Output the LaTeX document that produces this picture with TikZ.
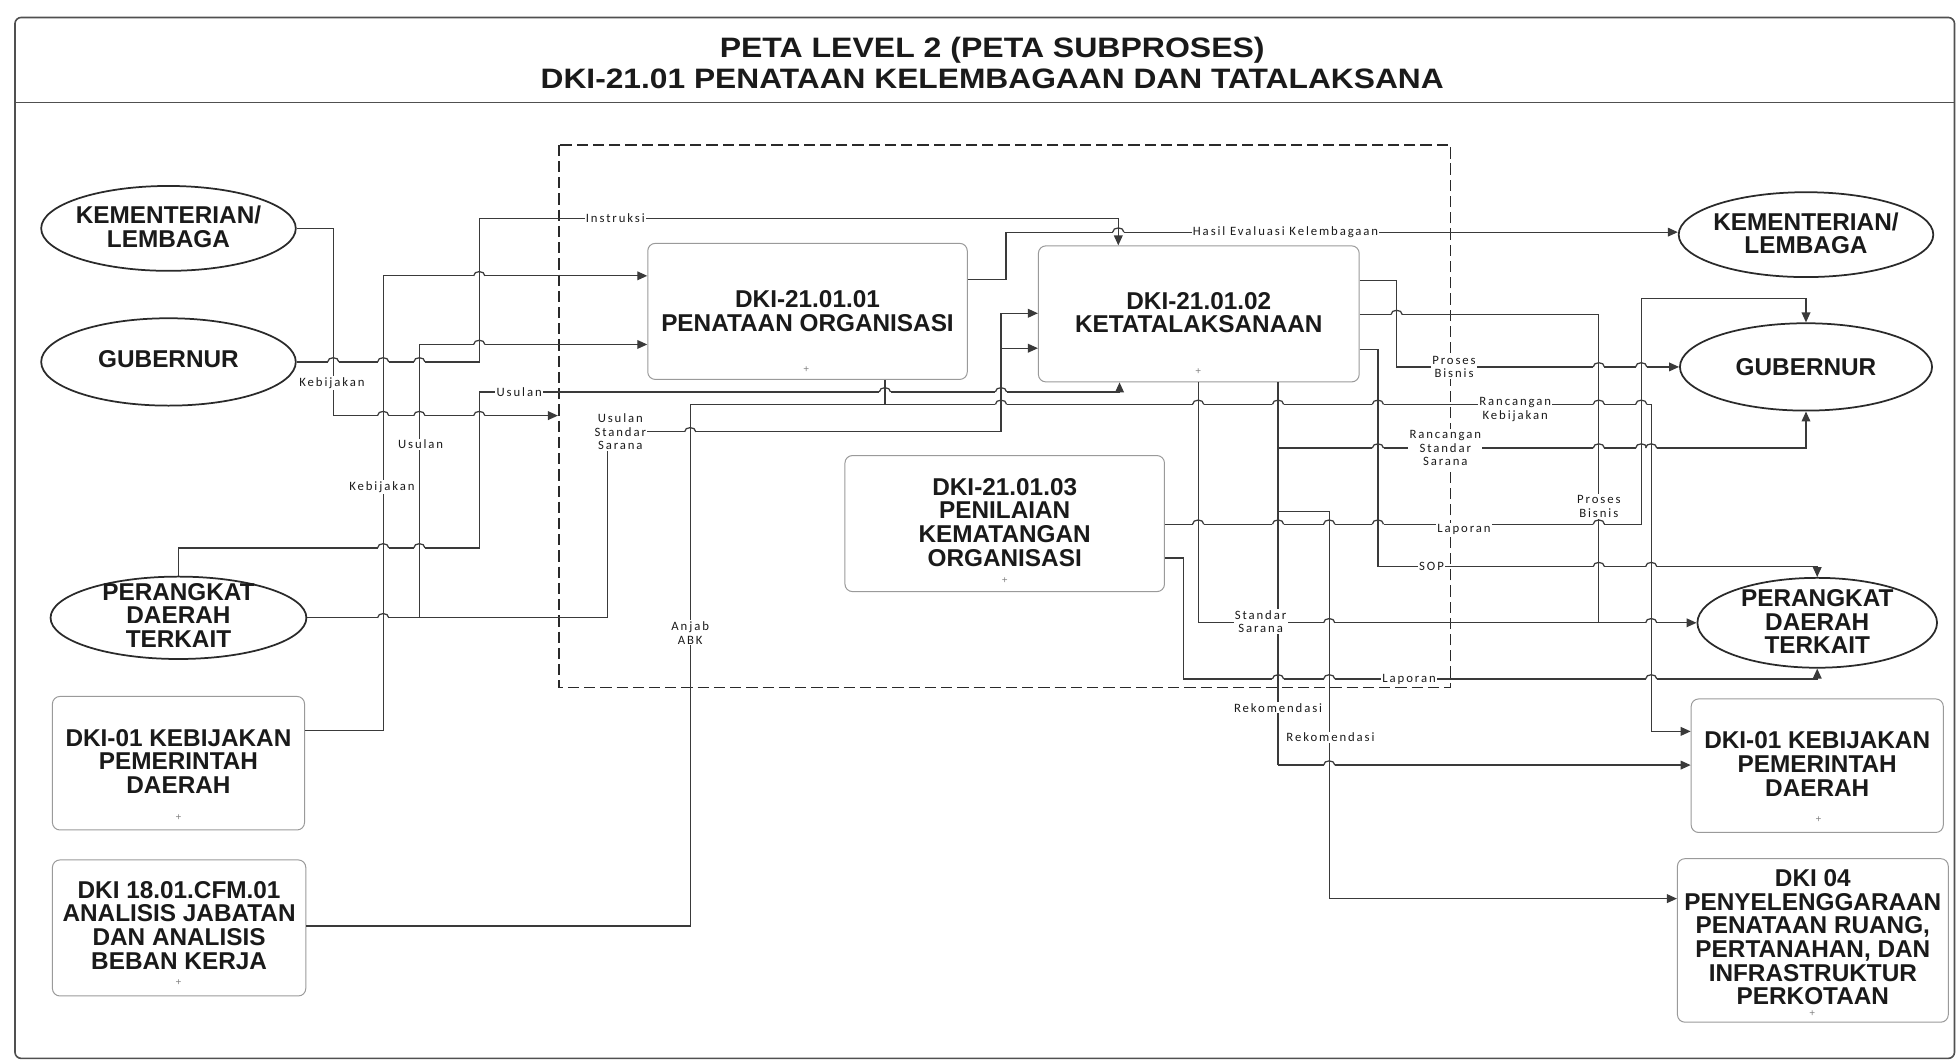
\documentclass[tikz,border=0pt]{standalone}
\usepackage{fontspec}
\setmainfont{Liberation Sans}
\newfontfamily\lblfont[LetterSpace=15]{Carlito}
\usetikzlibrary{shapes.geometric,arrows.meta}
\definecolor{lncol}{HTML}{3A3A3A}
\definecolor{boxcol}{HTML}{9A9A9A}
\definecolor{ellcol}{HTML}{2A2A2A}
\definecolor{txtcol}{HTML}{1A1A1A}
\definecolor{framecol}{HTML}{505050}
\newcommand\hopat[2]{%
  \fill[white] ({#1-4.5},{#2-1.6}) rectangle ({#1+4.5},{#2+1.6});
  \draw[conn] ({#1-4.5},#2) .. controls ({#1-4.5},{#2-4.5}) and ({#1+4.5},{#2-4.5}) .. ({#1+4.5},#2);
  \draw[conn] (#1,{#2-2.5}) -- (#1,{#2+2.5});}
\begin{document}
\begin{tikzpicture}[x=1pt,y=-1pt,
  conn/.style={draw=lncol,line width=1.0pt},
  arr/.style={conn,-{Triangle[length=8pt,width=7pt]}},
  ell/.style={ellipse,draw=ellcol,line width=1.4pt,fill=white,inner sep=0pt},
  box/.style={rectangle,rounded corners=6pt,draw=boxcol,line width=0.8pt,fill=white,inner sep=0pt},
  txt/.style={font=\bfseries\fontsize{19.5}{19}\selectfont,align=center,text=txtcol,inner sep=0pt},
  titl/.style={font=\bfseries\fontsize{22.5}{24}\selectfont,text=txtcol,inner sep=0pt},
  lbl/.style={font=\lblfont\fontsize{10.2}{11}\selectfont,align=center,fill=white,inner sep=1pt,text=txtcol},
  mk/.style={font=\fontsize{8}{8}\selectfont,text=gray,inner sep=0pt}]
\useasboundingbox (0,0) rectangle (1568,850);
% frame and title
\draw[framecol,line width=1.3pt,rounded corners=5pt] (12,14) rectangle (1566,848);
\draw[framecol,line width=1.1pt] (12,82) -- (1566,82);
\node[titl] (t1) at (795,40) {\scalebox{1.14}[1]{PETA LEVEL 2 (PETA SUBPROSES)}};
\node[titl] (t2) at (795,63) {\scalebox{1.13}[1]{DKI-21.01 PENATAAN KELEMBAGAAN DAN TATALAKSANA}};
% dashed boundary
\draw[ellcol,line width=1.2pt,dash pattern=on 9pt off 4pt] (448,116) rectangle (1162,551);
% shapes
\node[ell,minimum width=204pt,minimum height=68pt] (kemL) at (135,183) {};
\node[ell,minimum width=204pt,minimum height=70pt] (gubL) at (135,290) {};
\node[ell,minimum width=205pt,minimum height=66pt] (pdtL) at (143,495) {};
\node[ell,minimum width=204pt,minimum height=68pt] (kemR) at (1447,188) {};
\node[ell,minimum width=202pt,minimum height=70pt] (gubR) at (1447,294) {};
\node[ell,minimum width=192pt,minimum height=72pt] (pdtR) at (1456,499) {};
\node[box,minimum width=202pt,minimum height=107pt] (dkiL1) at (143,611.5) {};
\node[box,minimum width=203pt,minimum height=109pt] (dki18) at (143.5,743.5) {};
\node[box,minimum width=256pt,minimum height=109pt] (p1) at (647,249.5) {};
\node[box,minimum width=257pt,minimum height=109pt] (p2) at (960.5,251.5) {};
\node[box,minimum width=256pt,minimum height=109pt] (p3) at (805,419.5) {};
\node[box,minimum width=202pt,minimum height=107pt] (dkiR1) at (1456,613.5) {};
\node[box,minimum width=217pt,minimum height=131pt] (dki04) at (1452.5,753.5) {};
% texts
\node[txt] (kemLt) at (135,182) {KEMENTERIAN/\\LEMBAGA};
\node[txt] (gubLt) at (135,288) {GUBERNUR};
\node[txt] (pdtLt) at (143,493) {PERANGKAT\\DAERAH\\TERKAIT};
\node[txt] (kemRt) at (1447,187) {KEMENTERIAN/\\LEMBAGA};
\node[txt] (gubRt) at (1447,294) {GUBERNUR};
\node[txt] (pdtRt) at (1456,498) {PERANGKAT\\DAERAH\\TERKAIT};
\node[txt] (dkiL1t) at (143,610) {DKI-01 KEBIJAKAN\\PEMERINTAH\\DAERAH};
\node[txt] (dki18t) at (143.5,741.5) {DKI 18.01.CFM.01\\ANALISIS JABATAN\\DAN ANALISIS\\BEBAN KERJA};
\node[txt] (p1t) at (647,249.5) {DKI-21.01.01\\PENATAAN ORGANISASI};
\node[txt] (p2t) at (960.5,250.5) {DKI-21.01.02\\KETATALAKSANAAN};
\node[txt] (p3t) at (805,418.5) {DKI-21.01.03\\PENILAIAN\\KEMATANGAN\\ORGANISASI};
\node[txt] (dkiR1t) at (1456,612) {DKI-01 KEBIJAKAN\\PEMERINTAH\\DAERAH};
\node[txt] (dki04t) at (1452.5,751) {DKI 04\\PENYELENGGARAAN\\PENATAAN RUANG,\\PERTANAHAN, DAN\\INFRASTRUKTUR\\PERKOTAAN};
% small markers
\node[mk] (m1) at (646,296) {+};
\node[mk] (m2) at (960,298) {+};
\node[mk] (m3) at (805,465) {+};
\node[mk] (m4) at (143,655) {+};
\node[mk] (m5) at (143,787) {+};
\node[mk] (m6) at (1457,657) {+};
\node[mk] (m7) at (1452,812) {+};
% connectors left
\draw[arr] (kemL.east) -- (267,183) -- (267,333) -- (447,333);
\draw[arr] (gubL.east) -- (384,290) -- (384,175) -- (896,175) -- (896,0 |- p2.north);
\draw[arr] (dkiL1.east |- 0,585) -- (307,585) -- (307,221) -- (p1.west |- 0,221);
\draw[arr] (pdtL.east) -- (336,495) -- (336,276) -- (p1.west |- 0,276);
\draw[conn] (336,495) -- (487,495) -- (487,346) -- (802,346) -- (802,251);
\draw[arr] (802,251) -- (p2.west |- 0,251);
\draw[arr] (802,279) -- (p2.west |- 0,279);
\draw[arr] (pdtL.north) -- (143,439) -- (384,439) -- (384,314) -- (897,314) -- (897,0 |- p2.south);
\draw[arr] (dki18.east |- 0,742) -- (553,742) -- (553,324) -- (1323,324) -- (1323,586) -- (dkiR1.west |- 0,586);
\draw[conn] (709,0 |- p1.south) -- (709,324);
\draw[arr] (p1.east |- 0,224) -- (806,224) -- (806,186) -- (kemR.west |- 0,186);
% connectors right
\draw[arr] (p2.east |- 0,225) -- (1119,225) -- (1119,294) -- (gubR.west);
\draw[conn] (p2.east |- 0,252) -- (1281,252) -- (1281,499);
\draw[arr] (p2.east |- 0,280) -- (1104,280) -- (1104,454) -- (1456,454) -- (pdtR.north);
\draw[arr] (960,0 |- p2.south) -- (960,499) -- (pdtR.west);
\draw[conn] (1024,0 |- p2.south) -- (1024,613);
\draw[arr] (1024,359) -- (1447,359) -- (gubR.south);
\draw[arr] (1024,613) -- (dkiR1.west |- 0,613);
\draw[arr] (1024,410) -- (1065,410) -- (1065,720) -- (dki04.west |- 0,720);
\draw[arr] (p3.east |- 0,420) -- (1315,420) -- (1315,239) -- (1447,239) -- (gubR.north);
\draw[arr] (p3.east |- 0,447) -- (948,447) -- (948,544) -- (1456,544) -- (pdtR.south);
% line hops
\foreach \hx/\hy in {307/333,336/333,384/333, 267/290,307/290,336/290, 384/221, 384/276,
  307/439,336/439, 709/314,802/314, 307/495, 553/346,
  802/324,960/324,1024/324,1104/324,1281/324,1315/324, 896/186, 1281/294,1315/294,
  1119/252, 1281/454,1323/454, 1065/499,1323/499, 1104/359,1281/359,1315/359,1323/359,
  960/420,1024/420,1065/420,1104/420,1281/420, 1024/544,1065/544,1323/544, 1065/613}
  {\hopat{\hx}{\hy}}
% labels
\node[lbl] (l1) at (266,307) {Kebijakan};
\node[lbl] (l2) at (306,390) {Kebijakan};
\node[lbl] (l3) at (337,356) {Usulan};
\node[lbl] (l4) at (416,314) {Usulan};
\node[lbl] (l5) at (493,175) {Instruksi};
\node[lbl] (l6) at (1030,186) {Hasil Evaluasi Kelembagaan};
\node[lbl] (l7) at (497,346) {Usulan\\Standar\\Sarana};
\node[lbl] (l8) at (553,507) {Anjab\\ABK};
\node[lbl] (l9) at (1165,294) {Proses\\Bisnis};
\node[lbl] (l10) at (1214,328) {Rancangan\\Kebijakan};
\node[lbl] (l11) at (1158,359) {Rancangan\\Standar\\Sarana};
\node[lbl] (l12) at (1281,406) {Proses\\Bisnis};
\node[lbl] (l13) at (1173,424) {Laporan};
\node[lbl] (l14) at (1147,454) {SOP};
\node[lbl] (l15) at (1010,498) {Standar\\Sarana};
\node[lbl] (l16) at (1129,544) {Laporan};
\node[lbl] (l17) at (1024,567) {Rekomendasi};
\node[lbl] (l18) at (1066,591) {Rekomendasi};
\end{tikzpicture}
\end{document}
